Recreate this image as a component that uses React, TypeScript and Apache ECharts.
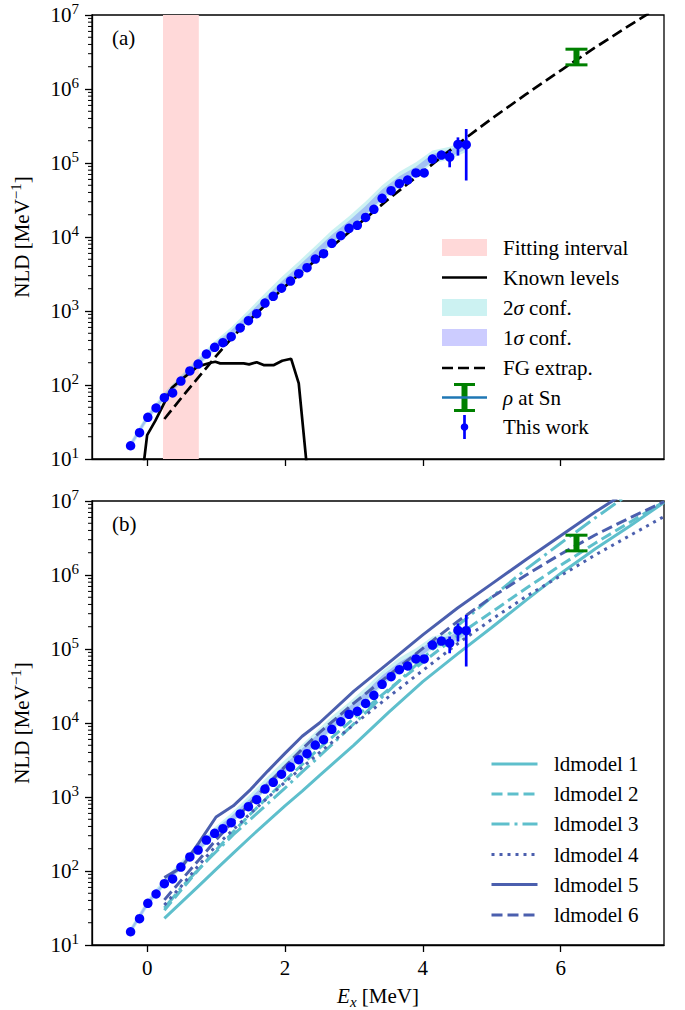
import React, { useEffect, useRef } from "react";
import * as echarts from "echarts";

// ---------------- data ----------------
const dataE = [-0.24, -0.11, 0.01, 0.13, 0.25, 0.37, 0.49, 0.62, 0.74, 0.86, 0.98, 1.1, 1.22, 1.35, 1.47, 1.59, 1.71, 1.83, 1.95, 2.08, 2.2, 2.32, 2.44, 2.56, 2.68, 2.81, 2.93, 3.05, 3.17, 3.29, 3.41, 3.54, 3.66, 3.78, 3.9, 4.02, 4.14, 4.27, 4.39, 4.51, 4.63];
const dataNLD = [15.1, 22.7, 36.6, 48.9, 67.3, 78, 113, 155, 192, 262, 323, 373, 450, 590, 740, 920, 1280, 1580, 2030, 2540, 3190, 3850, 5040, 5950, 8220, 10400, 13100, 14400, 18400, 23700, 33300, 42300, 52500, 58900, 73300, 73300, 113000, 128000, 120000, 178000, 177000];

const errE = [4.39, 4.51, 4.63];
const errLo = [87500, 126000, 58000];
const errHi = [147000, 222000, 288000];

const bandE = [-0.24, 0.01, 0.25, 0.49, 0.74, 0.98, 1.22, 1.47, 1.71, 1.95, 2.2, 2.44, 2.68, 2.93, 3.17, 3.41, 3.66, 3.9, 4.14, 4.39, 4.63];
const band2Lo = [13.8, 33.1, 61.7, 105, 178, 288, 427, 708, 1175, 1905, 2951, 4786, 7762, 12000, 18600, 30900, 46800, 66100, 97700, 112000, 141000];
const band2Hi = [17.4, 41.7, 79.4, 135, 234, 389, 603, 1023, 1738, 2884, 4677, 7586, 12300, 19100, 30200, 50100, 75900, 102000, 148000, 166000, 204000];
const band1Lo = [14.5, 34.7, 64.6, 110, 186, 302, 447, 741, 1230, 1995, 3162, 5129, 8318, 12900, 20000, 33100, 50100, 70800, 105000, 120000, 155000];
const band1Hi = [16.6, 39.8, 74.1, 126, 219, 363, 550, 912, 1514, 2512, 4074, 6607, 10700, 16600, 26300, 43700, 66100, 89100, 132000, 151000, 191000];

const knownE = [-0.07, 0.0, 0.12, 0.36, 0.49, 0.73, 0.92, 0.99, 1.06, 1.4, 1.48, 1.59, 1.69, 1.84, 1.96, 2.09, 2.2, 2.33];
const knownV = [6, 21, 33, 92, 117, 177, 200, 206, 196, 196, 190, 203, 186, 186, 213, 226, 105, 6];

const fgE = [0.25, 0.5, 0.75, 1.0, 1.25, 1.5, 2.0, 2.5, 3.0, 3.5, 4.0, 4.5, 5.0, 5.5, 6.0, 6.5, 7.0, 7.5];
const fgV = [34.7, 67.6, 129, 245, 457, 776, 2138, 5370, 13180, 32360, 75860, 177800, 398100, 851100, 1778000, 3631000, 7244000, 14130000];

const fitInterval = [0.23, 0.75];

const snE = [6.23];
const snLo = [2.12e6];
const snHi = [3.45e6];

const modelE = [0.25, 0.5, 0.75, 1.0, 1.25, 1.5, 1.75, 2.0, 2.25, 2.5, 3.0, 3.5, 4.0, 4.5, 5.0, 5.5, 6.0, 6.5, 7.0, 7.5];
const ld1 = [22.9, 38.0, 63.1, 105, 174, 288, 468, 759, 1202, 1950, 5012, 13800, 36300, 85100, 195000, 457000, 1050000, 2240000, 4570000, 9550000];
const ld2 = [29.5, 56.2, 105, 191, 339, 589, 1000, 1660, 2750, 4570, 11500, 28200, 66100, 151000, 316000, 661000, 1350000, 2690000, 5130000, 9770000];
const ld3 = [31.6, 60.3, 107, 182, 309, 501, 813, 1320, 2190, 3550, 9770, 26900, 74100, 204000, 501000, 1200000, 2690000, 5890000, 12600000, 26300000];
const ld4 = [34.7, 63.1, 120, 219, 363, 603, 977, 1580, 2510, 3980, 9550, 22400, 51300, 117000, 251000, 513000, 977000, 1860000, 3390000, 6170000];
const ld5 = [81.3, 112, 240, 537, 759, 1260, 2240, 3890, 6610, 10000, 26900, 64600, 155000, 355000, 759000, 1620000, 3390000, 7080000, 14100000, 28200000];
const ld6 = [40.7, 75.9, 141, 263, 468, 832, 1480, 2570, 4470, 7410, 18600, 43700, 102000, 234000, 501000, 1000000, 1910000, 3470000, 5890000, 9770000];

const modelNames = ["ldmodel 1", "ldmodel 2", "ldmodel 3", "ldmodel 4", "ldmodel 5", "ldmodel 6"];
const xTicks = [0, 2, 4, 6];

// ---------------- style ----------------
const FONT = "Liberation Serif";
const FS = 21;
const X_MIN = -0.8;
const X_MAX = 7.5;
const Y_MIN = 10;
const Y_MAX = 1e7;
const BLUE = "#0000ff";
const GREEN = "#008000";
const CYAN = "#5ebfcc";
const NAVY = "#4b5fae";
const PINK = "#ffd9d9";
const C2 = "rgba(0,191,191,0.2)";
const C1 = "rgba(0,0,255,0.2)";

const modelStyles = [
  { color: CYAN, dash: "solid" as any },
  { color: CYAN, dash: [11, 5] },
  { color: CYAN, dash: [18, 5, 3, 5] },
  { color: NAVY, dash: [3, 5] },
  { color: NAVY, dash: "solid" as any },
  { color: NAVY, dash: [11, 5] },
];
const modelData = [ld1, ld2, ld3, ld4, ld5, ld6];

const GRID_LEFT = 92;
const GRID_W = 572;
const GRID_H = 444;
const GRID_TOPS = [15, 501];

function bandSeries(g: number, lo: number[], hi: number[], color: string, z: number) {
  return {
    type: "custom",
    xAxisIndex: g,
    yAxisIndex: g,
    z,
    silent: true,
    data: bandE.map((e, i) => [e, lo[i], hi[i]]),
    encode: { x: 0, y: [1, 2] },
    renderItem: (params: any, api: any) => {
      if (params.dataIndexInside !== 0) return null;
      const top = bandE.map((e, i) => api.coord([e, hi[i]]));
      const bot = bandE.map((e, i) => api.coord([e, lo[i]])).reverse();
      return { type: "polygon", shape: { points: top.concat(bot) }, style: { fill: color } };
    },
  };
}

function errSeries(g: number) {
  return {
    type: "custom",
    xAxisIndex: g,
    yAxisIndex: g,
    z: 5,
    silent: true,
    data: errE.map((e, i) => [e, errLo[i], errHi[i]]),
    encode: { x: 0, y: [1, 2] },
    renderItem: (params: any, api: any) => {
      const p1 = api.coord([api.value(0), api.value(1)]);
      const p2 = api.coord([api.value(0), api.value(2)]);
      return { type: "line", shape: { x1: p1[0], y1: p1[1], x2: p2[0], y2: p2[1] }, style: { stroke: BLUE, lineWidth: 2.7 } };
    },
  };
}

function snSeries(g: number) {
  return {
    type: "custom",
    xAxisIndex: g,
    yAxisIndex: g,
    z: 4,
    silent: true,
    data: snE.map((e, i) => [e, snLo[i], snHi[i]]),
    encode: { x: 0, y: [1, 2] },
    renderItem: (params: any, api: any) => {
      const p1 = api.coord([api.value(0), api.value(1)]);
      const p2 = api.coord([api.value(0), api.value(2)]);
      return {
        type: "group",
        children: [
          { type: "line", shape: { x1: p1[0], y1: p1[1], x2: p2[0], y2: p2[1] }, style: { stroke: GREEN, lineWidth: 6 } },
          { type: "line", shape: { x1: p1[0] - 11, y1: p1[1], x2: p1[0] + 11, y2: p1[1] }, style: { stroke: GREEN, lineWidth: 3 } },
          { type: "line", shape: { x1: p2[0] - 11, y1: p2[1], x2: p2[0] + 11, y2: p2[1] }, style: { stroke: GREEN, lineWidth: 3 } },
        ],
      };
    },
  };
}

function scatterSeries(g: number) {
  return {
    type: "scatter",
    xAxisIndex: g,
    yAxisIndex: g,
    z: 6,
    symbol: "circle",
    symbolSize: 9.5,
    itemStyle: { color: BLUE, opacity: 1 },
    data: dataE.map((e, i) => [e, dataNLD[i]]),
  };
}

const minorVals: number[] = [];
for (let n = 1; n < 7; n++) for (let k = 2; k < 10; k++) minorVals.push(k * Math.pow(10, n));

function minorSeries(g: number) {
  return {
    type: "custom",
    xAxisIndex: g,
    yAxisIndex: g,
    z: 10,
    silent: true,
    clip: false,
    data: minorVals.map((v) => [X_MIN, v]),
    encode: { x: 0, y: 1 },
    renderItem: (params: any, api: any) => {
      const p = api.coord([X_MIN, api.value(1)]);
      return { type: "line", shape: { x1: p[0] - 4, y1: p[1], x2: p[0], y2: p[1] }, style: { stroke: "#000", lineWidth: 1 } };
    },
  };
}

const axisLineStyle = { color: "#000", width: 1.3 };

function makeX(g: number) {
  return {
    gridIndex: g,
    type: "value",
    min: X_MIN,
    max: X_MAX,
    axisLine: { show: true, onZero: false, lineStyle: axisLineStyle },
    axisTick: { show: true, length: 7, customValues: xTicks, lineStyle: axisLineStyle },
    axisLabel: {
      show: g === 1,
      customValues: xTicks,
      margin: 12,
      fontFamily: FONT,
      fontSize: FS,
      color: "#000",
    },
    splitLine: { show: false },
    name: g === 1 ? "{i|E}{sub|x}{b| [MeV]}" : "",
    nameLocation: "middle",
    nameGap: 38,
    nameTextStyle: {
      color: "#000",
      fontFamily: FONT,
      fontSize: FS,
      rich: {
        i: { fontFamily: FONT, fontSize: FS, fontStyle: "italic", lineHeight: 26, color: "#000" },
        sub: { fontFamily: FONT, fontSize: 15, fontStyle: "italic", verticalAlign: "bottom", lineHeight: 15, color: "#000" },
        b: { fontFamily: FONT, fontSize: FS, lineHeight: 26, color: "#000" },
      },
    },
  };
}

function makeY(g: number) {
  return {
    gridIndex: g,
    type: "log",
    logBase: 10,
    min: Y_MIN,
    max: Y_MAX,
    axisLine: { show: true, onZero: false, lineStyle: axisLineStyle },
    axisTick: { show: true, length: 7, lineStyle: axisLineStyle },
    axisLabel: {
      margin: 13,
      color: "#000",
      fontFamily: FONT,
      formatter: (v: number) => `{b|10}{s|${Math.round(Math.log10(v))}}`,
      rich: {
        b: { fontFamily: FONT, fontSize: FS, lineHeight: 28, color: "#000" },
        s: { fontFamily: FONT, fontSize: 15, lineHeight: 15, verticalAlign: "top", color: "#000" },
      },
    },
    splitLine: { show: false },
    name: "{b|NLD [MeV}{s|\u22121}{b|]}",
    nameLocation: "middle",
    nameGap: 56,
    nameTextStyle: {
      color: "#000",
      fontFamily: FONT,
      rich: {
        b: { fontFamily: FONT, fontSize: FS, lineHeight: 28, color: "#000" },
        s: { fontFamily: FONT, fontSize: 15, lineHeight: 15, verticalAlign: "top", color: "#000" },
      },
    },
  };
}

function legendText(x: number, y: number, text: string) {
  return {
    type: "text",
    x,
    y,
    style: {
      text,
      fontFamily: FONT,
      fontSize: FS,
      fill: "#000",
      align: "left",
      verticalAlign: "middle",
      rich: { i: { fontFamily: FONT, fontSize: FS, fontStyle: "italic", fill: "#000" } },
    },
  };
}

function buildGraphics() {
  const els: any[] = [];
  // panel labels
  els.push(legendText(112, 38, "(a)"));
  els.push(legendText(112, 524, "(b)"));

  // top legend
  const hx1 = 442;
  const hx2 = 487;
  const hc = (hx1 + hx2) / 2;
  const tx = 503;
  const rows = [247.5, 277.5, 307.5, 337.5, 368, 397.5, 427];
  els.push({ type: "rect", shape: { x: hx1, y: rows[0] - 8.5, width: hx2 - hx1, height: 17 }, style: { fill: PINK } });
  els.push(legendText(tx, rows[0], "Fitting interval"));
  els.push({ type: "line", shape: { x1: hx1, y1: rows[1], x2: hx2, y2: rows[1] }, style: { stroke: "#000", lineWidth: 2.7 } });
  els.push(legendText(tx, rows[1], "Known levels"));
  els.push({ type: "rect", shape: { x: hx1, y: rows[2] - 8.5, width: hx2 - hx1, height: 17 }, style: { fill: "#ccf2f2" } });
  els.push(legendText(tx, rows[2], "2{i|\u03c3} conf."));
  els.push({ type: "rect", shape: { x: hx1, y: rows[3] - 8.5, width: hx2 - hx1, height: 17 }, style: { fill: "#ccccff" } });
  els.push(legendText(tx, rows[3], "1{i|\u03c3} conf."));
  els.push({ type: "line", shape: { x1: hx1, y1: rows[4], x2: hx2, y2: rows[4] }, style: { stroke: "#000", lineWidth: 2.7, lineDash: [11, 5] } });
  els.push(legendText(tx, rows[4], "FG extrap."));
  // rho at Sn
  els.push({ type: "line", shape: { x1: hc, y1: rows[5] - 13, x2: hc, y2: rows[5] + 13 }, style: { stroke: GREEN, lineWidth: 6 } });
  els.push({ type: "line", shape: { x1: hc - 10.5, y1: rows[5] - 13, x2: hc + 10.5, y2: rows[5] - 13 }, style: { stroke: GREEN, lineWidth: 3 } });
  els.push({ type: "line", shape: { x1: hc - 10.5, y1: rows[5] + 13, x2: hc + 10.5, y2: rows[5] + 13 }, style: { stroke: GREEN, lineWidth: 3 } });
  els.push({ type: "line", shape: { x1: hx1, y1: rows[5], x2: hx2, y2: rows[5] }, style: { stroke: "#1f77b4", lineWidth: 2.7 } });
  els.push(legendText(tx, rows[5], "{i|\u03c1} at Sn"));
  // this work
  els.push({ type: "line", shape: { x1: hc, y1: rows[6] - 12, x2: hc, y2: rows[6] + 12 }, style: { stroke: BLUE, lineWidth: 2.7 } });
  els.push({ type: "circle", shape: { cx: hc, cy: rows[6], r: 3.8 }, style: { fill: BLUE } });
  els.push(legendText(tx, rows[6], "This work"));

  // bottom legend
  const bx1 = 491.5;
  const bx2 = 537.5;
  const btx = 554;
  const brows = [764, 794, 824, 854.5, 884.5, 915];
  modelNames.forEach((name, k) => {
    const st = modelStyles[k];
    els.push({
      type: "line",
      shape: { x1: bx1, y1: brows[k], x2: bx2, y2: brows[k] },
      style: { stroke: st.color, lineWidth: 3, lineDash: st.dash === "solid" ? null : st.dash },
    });
    els.push(legendText(btx, brows[k], name));
  });
  return els;
}

function buildOption() {
  const series: any[] = [];
  // ---- panel (a) ----
  series.push({
    type: "custom",
    xAxisIndex: 0,
    yAxisIndex: 0,
    z: 1,
    silent: true,
    data: [[fitInterval[0], Y_MIN, fitInterval[1], Y_MAX]],
    encode: { x: [0, 2], y: [1, 3] },
    renderItem: (params: any, api: any) => {
      const a = api.coord([fitInterval[0], Y_MAX]);
      const b = api.coord([fitInterval[1], Y_MIN]);
      return { type: "rect", shape: { x: a[0], y: a[1], width: b[0] - a[0], height: b[1] - a[1] }, style: { fill: PINK } };
    },
  });
  series.push(bandSeries(0, band2Lo, band2Hi, C2, 2));
  series.push(bandSeries(0, band1Lo, band1Hi, C1, 2));
  series.push({
    type: "line",
    xAxisIndex: 0,
    yAxisIndex: 0,
    z: 3,
    silent: true,
    showSymbol: false,
    symbol: "none",
    clip: true,
    data: knownE.map((e, i) => [e, knownV[i]]),
    lineStyle: { color: "#000", width: 2.7 },
  });
  series.push({
    type: "line",
    xAxisIndex: 0,
    yAxisIndex: 0,
    z: 3,
    silent: true,
    symbol: "none",
    clip: true,
    data: fgE.map((e, i) => [e, fgV[i]]),
    lineStyle: { color: "#000", width: 2.7, type: [11, 5] },
  });
  series.push(snSeries(0));
  series.push(errSeries(0));
  series.push(scatterSeries(0));
  series.push(minorSeries(0));

  // ---- panel (b) ----
  series.push(bandSeries(1, band2Lo, band2Hi, C2, 2));
  series.push(bandSeries(1, band1Lo, band1Hi, C1, 2));
  modelData.forEach((vals, k) => {
    const st = modelStyles[k];
    series.push({
      type: "line",
      name: modelNames[k],
      xAxisIndex: 1,
      yAxisIndex: 1,
      z: 3,
      silent: true,
      symbol: "none",
      clip: true,
      data: modelE.map((e, i) => [e, vals[i]]),
      lineStyle: { color: st.color, width: 3, type: st.dash },
    });
  });
  series.push(snSeries(1));
  series.push(errSeries(1));
  series.push(scatterSeries(1));
  series.push(minorSeries(1));

  return {
    animation: false,
    backgroundColor: "#fff",
    textStyle: { fontFamily: FONT },
    grid: GRID_TOPS.map((t) => ({
      left: GRID_LEFT,
      top: t,
      width: GRID_W,
      height: GRID_H,
      show: true,
      borderColor: "#000",
      borderWidth: 1.3,
      backgroundColor: "transparent",
    })),
    xAxis: [makeX(0), makeX(1)],
    yAxis: [makeY(0), makeY(1)],
    series,
    graphic: buildGraphics(),
  };
}

export default function App() {
  const ref = useRef<HTMLDivElement>(null);
  useEffect(() => {
    if (!ref.current) return;
    const chart = echarts.init(ref.current, undefined, { renderer: "svg" });
    chart.setOption(buildOption() as any);
    return () => chart.dispose();
  }, []);
  return (
    <div
      ref={ref}
      style={{ position: "absolute", left: 0, top: 0, width: 685, height: 1010, background: "#fff" }}
    />
  );
}
